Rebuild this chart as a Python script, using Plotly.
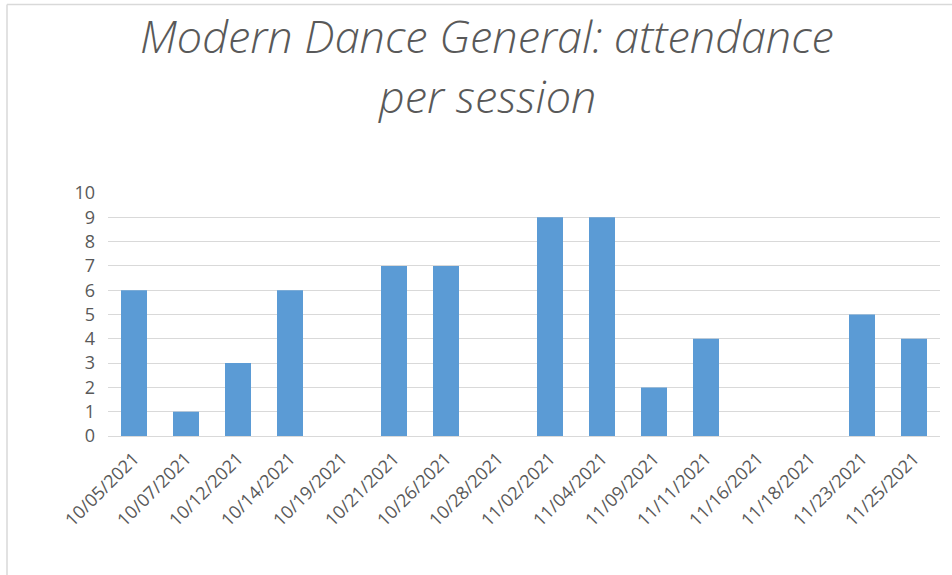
import plotly.graph_objects as go

dates = ["10/05/2021", "10/07/2021", "10/12/2021", "10/14/2021", "10/19/2021",
         "10/21/2021", "10/26/2021", "10/28/2021", "11/02/2021", "11/04/2021",
         "11/09/2021", "11/11/2021", "11/16/2021", "11/18/2021", "11/23/2021",
         "11/25/2021"]
attendance = [6, 1, 3, 6, 0, 7, 7, 0, 9, 9, 2, 4, 0, 0, 5, 4]
title_lines = ["Modern Dance General: attendance", "per session"]

W, H = 952, 575
L, R, T, B = 108, 12, 193, 139
PW, PH = W - L - R, H - T - B

def px(x):
    return (x - L) / PW

def py(y):
    return (H - B - y) / PH

fig = go.Figure(go.Bar(x=dates, y=attendance, marker_color="#5B9BD5",
                       marker_line_width=0))

title_font = dict(family="Open Sans", size=45, color="#595959", style="italic", weight=300)
annotations = [
    dict(text=title_lines[0], x=px(487), y=py(35), xref="paper", yref="paper",
         xanchor="center", yanchor="middle", showarrow=False, font=title_font),
    dict(text=title_lines[1], x=px(487), y=py(96), xref="paper", yref="paper",
         xanchor="center", yanchor="middle", showarrow=False, font=title_font),
]

border = "#d9d9d9"
shapes = [
    dict(type="line", xref="paper", yref="paper", x0=px(7), x1=px(952), y0=py(4.5), y1=py(4.5),
         line=dict(color=border, width=1.5)),
    dict(type="line", xref="paper", yref="paper", x0=px(7), x1=px(7), y0=py(4.5), y1=py(575),
         line=dict(color=border, width=1.5)),
]

fig.update_layout(
    width=W, height=H,
    margin=dict(l=L, r=R, t=T, b=B),
    plot_bgcolor="white", paper_bgcolor="white",
    bargap=0.5,
    showlegend=False,
    annotations=annotations,
    shapes=shapes,
    font=dict(family="Open Sans", color="#595959", size=18),
)
fig.update_xaxes(type="category", tickangle=-45, showgrid=False, showline=True,
                 linecolor="#d9d9d9", linewidth=1, ticks="", ticklabelstandoff=4,
                 tickfont=dict(size=18, color="#595959"))
fig.update_yaxes(range=[0, 10], dtick=1, showgrid=True, gridcolor="#d9d9d9", gridwidth=1,
                 zeroline=False, showline=False, ticks="", ticklabelstandoff=12,
                 tickfont=dict(size=18, color="#595959"))

fig.write_html("out.html", config={"displayModeBar": False},
               post_script="document.body.style.margin='0';document.body.style.padding='0';")
